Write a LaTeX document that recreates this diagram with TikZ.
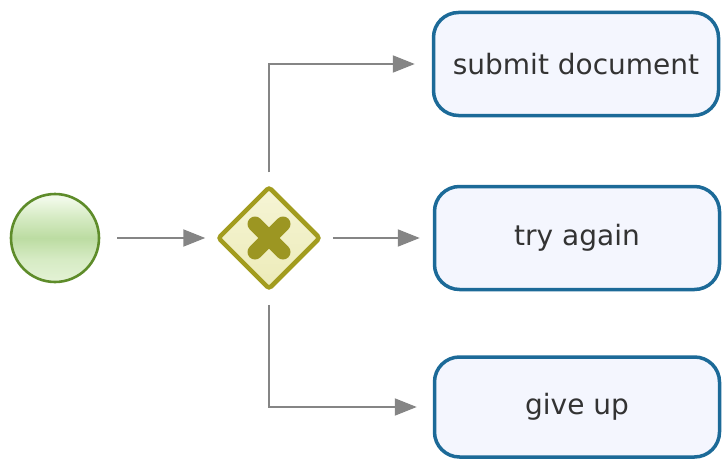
\documentclass[tikz,border=0pt]{standalone}
\usepackage{fontspec}
\setmainfont{DejaVu Sans}
\usetikzlibrary{shapes.geometric,arrows.meta,calc}
\definecolor{startborder}{HTML}{5E8C2A}
\definecolor{starttop}{HTML}{F0F9E8}
\definecolor{startmid}{HTML}{BCDCA2}
\definecolor{startsoft}{HTML}{D6EBC4}
\definecolor{startbot}{HTML}{E4F2D6}
\definecolor{gwborder}{HTML}{A29C1E}
\definecolor{gwmark}{HTML}{9C9622}
\definecolor{gwfill}{HTML}{ECEBB8}
\definecolor{gwtop}{HTML}{F6F5D6}
\definecolor{taskborder}{HTML}{1C6A98}
\definecolor{taskfill}{HTML}{F4F6FE}
\definecolor{flow}{HTML}{858585}
\definecolor{txt}{HTML}{333333}
\pgfdeclareverticalshading{startshade}{100bp}{color(0bp)=(startbot); color(25bp)=(startbot); color(38bp)=(startsoft); color(50bp)=(startmid); color(62bp)=(startsoft); color(72bp)=(starttop); color(100bp)=(starttop)}
\tikzset{
  startev/.style={circle, draw=startborder, line width=2.6pt, minimum size=88pt, inner sep=0pt,
    shading=startshade},
  gateway/.style={diamond, draw=gwborder, line width=4.5pt, rounded corners=3pt, minimum size=103pt, inner sep=0pt, aspect=1,
    top color=gwtop, bottom color=gwfill},
  task/.style={rectangle, rounded corners=25pt, draw=taskborder, line width=3.5pt, fill=taskfill,
    minimum width=285pt, minimum height=103pt, text=txt, font=\fontsize{28}{33}\selectfont},
  flowline/.style={draw=flow, line width=2pt, -{Triangle[length=22pt,width=17pt]}}
}
\begin{document}
\begin{tikzpicture}[x=1pt,y=-1pt]
\useasboundingbox (0,0) rectangle (722,460);
\node[startev] (start) at (55,238) {};
\node[gateway] (gw) at (269,238) {};
\draw[gwmark, line width=15pt, line cap=round] ($(gw.center)+(-14,-14)$) -- ($(gw.center)+(14,14)$);
\draw[gwmark, line width=15pt, line cap=round] ($(gw.center)+(14,-14)$) -- ($(gw.center)+(-14,14)$);
\node[task] (submit) at (576,64) {submit document};
\node[task] (try) at (577,238) {try again};
\node[task, minimum height=100pt] (giveup) at (577,407) {give up};
\draw[flowline, shorten <=17pt, shorten >=10pt] (start.east) -- (gw.west);
\draw[flowline, shorten <=12pt, shorten >=17pt] (gw.north) |- (submit.west);
\draw[flowline, shorten <=10pt, shorten >=13pt] (gw.east) -- (try.west);
\draw[flowline, shorten <=13pt, shorten >=16pt] (gw.south) |- (giveup.west);
\end{tikzpicture}
\end{document}
